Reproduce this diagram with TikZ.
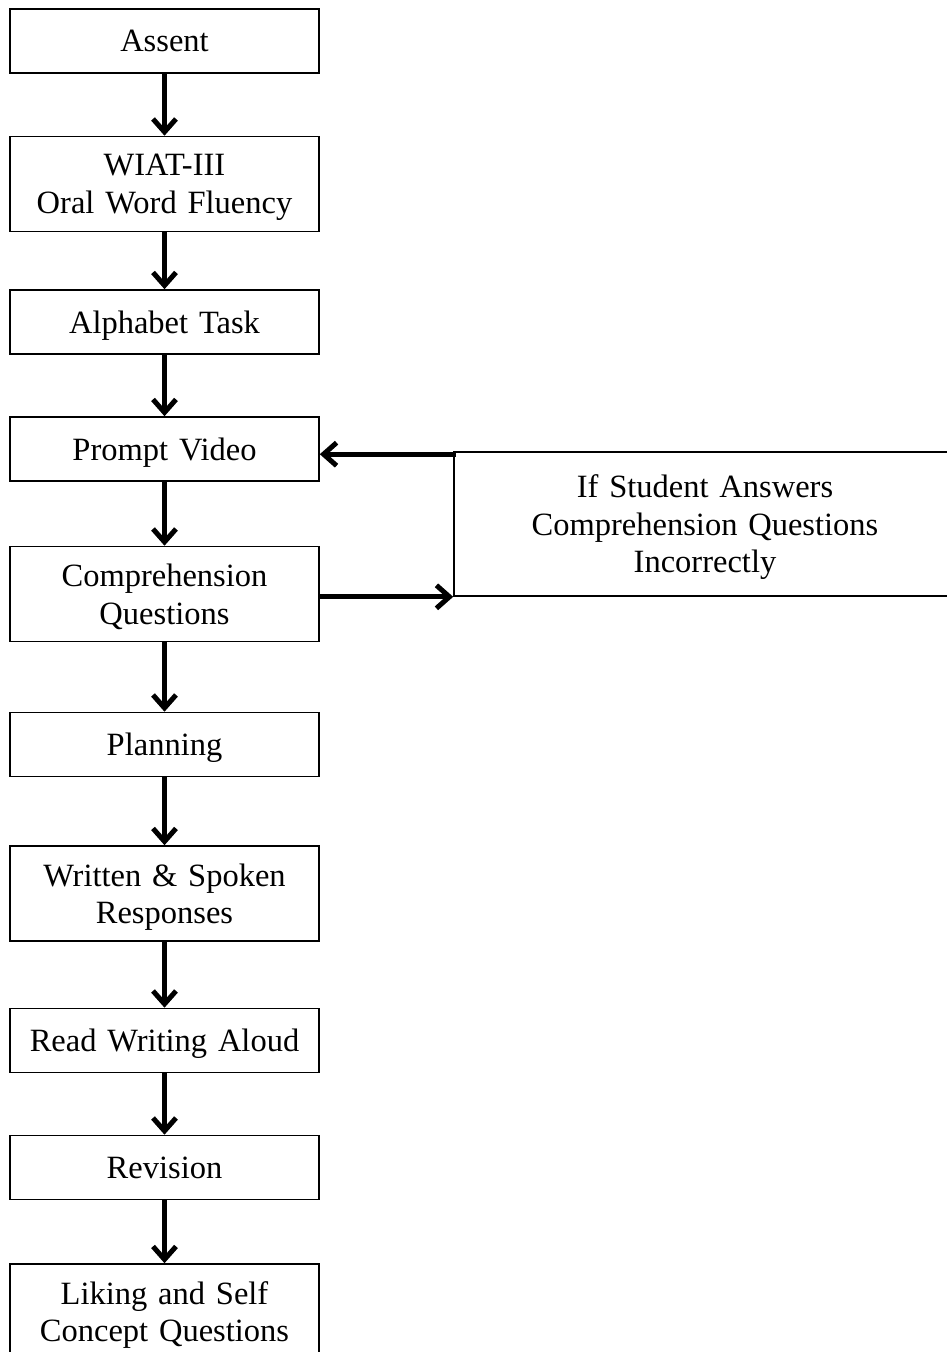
\documentclass[tikz,border=0pt]{standalone}
\usepackage{fontspec}
\setmainfont{Liberation Serif}
\usepackage{tikz}
\usetikzlibrary{arrows.meta, shapes, positioning}

\begin{document}
\begin{tikzpicture}[x=1pt, y=1pt,
	font=\fontsize{32.5}{37.5}\selectfont,
	stepbox/.style={draw, line width=1.6pt, minimum width=309pt, minimum height=64pt, text width=300pt, align=center, inner sep=0pt, text depth=0pt},
	tallbox/.style={stepbox, minimum height=95pt, text depth=37.5pt},
	flow/.style={-{Straight Barb[length=13pt, width=23pt]}, line width=5pt}]
	     \useasboundingbox (0,0) rectangle (947,-1352);

	     % nodes %
		 \node[stepbox] (assent) at (164.5,-41) {Assent};
		 \node[tallbox, below of = assent, node distance=143pt] (wiat) {WIAT-III\\Oral Word Fluency};
		 \node[stepbox, below of = wiat, node distance=138pt] (alpha) {Alphabet Task};
		 \node[stepbox, below of = alpha, node distance=127pt] (video) {Prompt Video};
		 \node[tallbox, below of = video, node distance=145pt] (compr) {Comprehension\\Questions};
		 \node[stepbox, below of = compr, node distance=150.5pt] (plan) {Planning};
		 \node[tallbox, below of = plan, node distance=149pt] (written) {Written \& Spoken\\Responses};
		 \node[stepbox, below of = written, node distance=147pt] (read) {Read Writing Aloud};
		 \node[stepbox, below of = read, node distance=127pt] (revision) {Revision};
		 \node[tallbox, below of = revision, node distance=144pt] (liking) {Liking and Self\\Concept Questions};
		 \node[stepbox, minimum width=502pt, minimum height=144pt, text width=490pt, text depth=75pt] (retry) at (705,-524) {If Student Answers\\Comprehension Questions\\Incorrectly};

		 % edges %
		 \draw[flow] (assent) -- (wiat);
		 \draw[flow] (wiat) -- (alpha);
		 \draw[flow] (alpha) -- (video);
		 \draw[flow] (video) -- (compr);
		 \draw[flow] (compr) -- (plan);
		 \draw[flow] (plan) -- (written);
		 \draw[flow] (written) -- (read);
		 \draw[flow] (read) -- (revision);
		 \draw[flow] (revision) -- (liking);
		 \draw[flow] (compr.east |- retry.south west) -- (retry.south west);
		 \draw[flow] ([xshift=3pt, yshift=-3pt]retry.north west) -- ([yshift=-3pt]retry.north west -| video.east);
	     \end{tikzpicture}
\end{document}
